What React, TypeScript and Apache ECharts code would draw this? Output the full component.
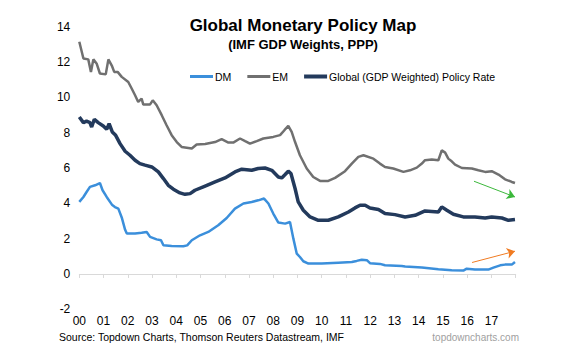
import React, { useEffect, useRef } from "react";
import * as echarts from "echarts";

const yearLabels = ["00","01","02","03","04","05","06","07","08","09","10","11","12","13","14","15","16","17"];

const dmX = [0.0,0.17,0.3,0.44,0.65,0.85,0.96,1.13,1.36,1.47,1.61,1.75,1.89,1.96,2.3,2.57,2.78,2.92,3.19,3.37,3.47,3.81,4.29,4.45,4.64,4.98,5.32,5.73,6.08,6.42,6.77,7.11,7.38,7.62,7.8,8.0,8.21,8.49,8.69,8.83,8.97,9.1,9.24,9.45,10.0,10.68,11.24,11.44,11.65,11.86,11.99,12.4,12.61,13.3,13.44,14.13,14.81,15.36,15.84,15.98,16.32,16.87,17.08,17.36,17.56,17.84,17.97];
const dmY = [4.08,4.36,4.64,4.93,5.02,5.15,4.74,4.36,3.9,3.79,3.7,3.2,2.5,2.29,2.29,2.34,2.38,2.1,1.96,1.91,1.63,1.59,1.57,1.62,1.91,2.19,2.38,2.76,3.17,3.7,3.99,4.08,4.17,4.27,3.99,3.42,2.91,2.85,2.94,2.0,1.15,0.96,0.72,0.59,0.59,0.64,0.68,0.74,0.81,0.78,0.61,0.57,0.49,0.45,0.42,0.36,0.27,0.21,0.19,0.3,0.25,0.25,0.36,0.49,0.53,0.53,0.68];

const emX = [0.0,0.17,0.37,0.48,0.58,0.72,0.85,1.09,1.2,1.34,1.44,1.58,1.75,2.02,2.16,2.3,2.43,2.57,2.64,2.92,3.03,3.19,3.4,3.6,3.81,4.02,4.22,4.5,4.64,4.84,5.19,5.6,5.87,6.15,6.35,6.63,6.84,7.04,7.32,7.59,8.0,8.28,8.46,8.62,8.76,8.9,9.1,9.38,9.65,9.93,10.27,10.55,10.96,11.24,11.51,11.72,12.13,12.4,12.61,12.95,13.37,13.64,13.92,14.13,14.26,14.54,14.81,14.95,15.09,15.22,15.36,15.5,15.78,16.19,16.46,16.74,17.01,17.29,17.56,17.84,17.97];
const emY = [13.15,12.2,12.15,11.44,12.15,11.9,11.35,11.3,12.15,11.8,11.44,11.44,11.16,10.87,10.5,10.12,9.74,9.93,9.59,9.6,9.83,9.55,8.99,8.42,7.86,7.47,7.19,7.13,7.1,7.33,7.36,7.47,7.63,7.44,7.44,7.67,7.52,7.38,7.52,7.67,7.76,7.86,8.14,8.38,8.04,7.47,6.72,5.97,5.49,5.27,5.27,5.44,5.82,6.25,6.63,6.72,6.53,6.25,6.06,5.97,5.78,5.87,6.02,6.25,6.44,6.48,6.44,7.0,6.87,6.53,6.38,6.19,6.0,5.97,5.87,5.78,5.82,5.63,5.36,5.21,5.15];

const glX = [0.0,0.17,0.3,0.44,0.51,0.62,0.78,0.99,1.13,1.23,1.36,1.5,1.68,1.89,2.09,2.3,2.5,2.71,2.99,3.26,3.47,3.67,3.88,4.15,4.36,4.57,4.77,5.19,5.6,6.01,6.42,6.7,7.11,7.38,7.66,7.94,8.21,8.35,8.49,8.62,8.73,8.9,9.03,9.24,9.52,9.86,10.27,10.68,11.1,11.37,11.58,11.79,11.99,12.34,12.61,13.02,13.44,13.85,14.26,14.81,14.95,15.16,15.43,15.84,16.32,16.74,17.01,17.43,17.7,17.97];
const glY = [8.89,8.57,8.65,8.57,8.32,8.76,8.57,8.38,8.19,8.51,8.04,7.85,7.38,6.95,6.72,6.44,6.25,6.16,6.06,5.78,5.4,5.02,4.8,4.59,4.51,4.55,4.74,4.98,5.21,5.44,5.78,5.93,5.87,5.97,6.0,5.87,5.49,5.44,5.63,5.82,5.69,4.84,4.08,3.61,3.23,3.04,3.04,3.23,3.51,3.74,3.89,3.89,3.74,3.65,3.42,3.36,3.23,3.32,3.57,3.51,3.8,3.61,3.38,3.23,3.23,3.17,3.23,3.17,3.04,3.08];

const greenArrow = [[16.28, 5.25], [17.97, 4.36]];
const orangeArrow = [[16.2, 0.65], [17.97, 1.29]];

const zip = (xs: number[], ys: number[]) => xs.map((x, i) => [x, ys[i]]);

const FONT = "'Liberation Sans', Arial, sans-serif";

export default function App() {
  const ref = useRef<HTMLDivElement>(null);
  useEffect(() => {
    if (!ref.current) return;
    const chart = echarts.init(ref.current, undefined, { renderer: "svg" });
    chart.setOption({
      animation: false,
      backgroundColor: "#ffffff",
      textStyle: { fontFamily: FONT },
      title: [
        { text: "Global Monetary Policy Map", left: 298, top: 12, textAlign: "center",
          textStyle: { fontSize: 17, fontWeight: "bold", color: "#000", fontFamily: FONT } },
        { text: "(IMF GDP Weights, PPP)", left: 298, top: 33, textAlign: "center",
          textStyle: { fontSize: 13, fontWeight: "bold", color: "#000", fontFamily: FONT } },
      ],
      legend: {
        left: 185, top: 66, itemWidth: 23, itemHeight: 11, itemGap: 16,
        textStyle: { fontSize: 10.5, color: "#000", fontFamily: FONT, padding: [0, 0, 0, -3] },
        data: [
          { name: "DM", icon: "path://M0,4.5H23V7.5H0Z" },
          { name: "EM", icon: "path://M0,4.5H23V7.5H0Z" },
          { name: "Global (GDP Weighted) Policy Rate", icon: "path://M0,4H23V8H0Z" },
        ],
      },
      grid: { left: 79.3, right: 72.3, top: 26.7, bottom: 43.7 },
      xAxis: [
        { type: "value", min: 0, max: 18, interval: 1, position: "bottom",
          axisLine: { show: true, onZero: true, lineStyle: { color: "#d9d9d9", width: 1 } },
          axisTick: { show: true, length: 4, lineStyle: { color: "#d9d9d9" } },
          axisLabel: { show: false }, splitLine: { show: false } },
        { type: "value", min: 0, max: 18, interval: 1, position: "bottom",
          axisLine: { show: false, onZero: false }, axisTick: { show: false }, splitLine: { show: false },
          axisLabel: { show: true, margin: 6, fontSize: 12, color: "#000", fontFamily: FONT,
            formatter: (v: number) => (yearLabels[Math.round(v)] ?? "") } },
      ],
      yAxis: {
        type: "value", min: -2, max: 14, interval: 2,
        axisLine: { show: false }, axisTick: { show: false }, splitLine: { show: false },
        axisLabel: { margin: 9, fontSize: 12, color: "#000", fontFamily: FONT },
      },
      series: [
        { name: "DM", type: "line", symbol: "none", data: zip(dmX, dmY),
          lineStyle: { color: "#3b8fdb", width: 2.5 }, itemStyle: { color: "#3b8fdb" },
          markLine: {
            silent: true, symbol: ["none", "arrow"], symbolSize: 8, label: { show: false },
            data: [
              [{ coord: greenArrow[0], lineStyle: { color: "#3cb83c", width: 1, type: "solid" } }, { coord: greenArrow[1] }],
              [{ coord: orangeArrow[0], lineStyle: { color: "#f07b22", width: 1, type: "solid" } }, { coord: orangeArrow[1] }],
            ],
          } },
        { name: "EM", type: "line", symbol: "none", data: zip(emX, emY),
          lineStyle: { color: "#707070", width: 2.5 }, itemStyle: { color: "#707070" } },
        { name: "Global (GDP Weighted) Policy Rate", type: "line", symbol: "none", data: zip(glX, glY),
          lineStyle: { color: "#233a5c", width: 3.5 }, itemStyle: { color: "#233a5c" } },
      ],
      graphic: [
        { type: "text", left: 59, top: 331, style: { text: "Source: Topdown Charts, Thomson Reuters Datastream, IMF", fontSize: 10.5, fill: "#000", fontFamily: FONT } },
        { type: "text", right: 69, top: 332, style: { text: "topdowncharts.com", fontSize: 10, fill: "#a0a0a0", fontFamily: FONT } },
      ],
    });
    return () => chart.dispose();
  }, []);
  return <div ref={ref} style={{ width: 588, height: 353, position: "absolute", left: 0, top: 0 }} />;
}
